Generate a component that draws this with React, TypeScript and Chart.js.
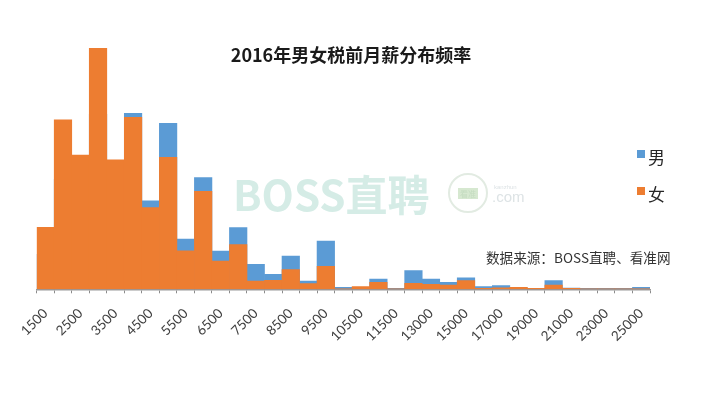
import { useEffect, useRef } from 'react';
import { Chart, registerables } from 'chart.js';

Chart.register(...registerables);

// Salary categories (monthly pre-tax salary, CNY)
const categories = [
  '1500', '2000', '2500', '3000', '3500', '4000', '4500', '5000', '5500', '6000',
  '6500', '7000', '7500', '8000', '8500', '9000', '9500', '10000', '10500', '11000',
  '11500', '12000', '13000', '14000', '15000', '16000', '17000', '18000', '19000', '20000',
  '21000', '22000', '23000', '24000', '25000',
];

// Tick labels that are shown on the axis
const tickLabels = [
  '1500', '2500', '3500', '4500', '5500', '6500', '7500', '8500', '9500',
  '10500', '11500', '13000', '15000', '17000', '19000', '21000', '23000', '25000',
];

// Frequency (%) per category
const maleValues = [
  2.42, 7.61, 7.61, 12.11, 7.75, 12.18, 6.13, 11.49, 3.48, 7.73,
  2.65, 4.27, 1.73, 1.04, 2.3, 0.57, 3.34, 0.14, 0.1, 0.71,
  0.06, 1.29, 0.71, 0.48, 0.8, 0.18, 0.25, 0.1, 0.07, 0.6,
  0.08, 0.07, 0.07, 0.07, 0.14,
];
const femaleValues = [
  4.29, 11.72, 9.29, 16.68, 8.95, 11.9, 5.65, 9.13, 2.67, 6.78,
  1.96, 3.09, 0.57, 0.62, 1.36, 0.39, 1.59, 0.03, 0.19, 0.48,
  0.03, 0.42, 0.35, 0.3, 0.6, 0.07, 0.1, 0.14, 0.06, 0.3,
  0.06, 0.03, 0.03, 0.03, 0.03,
];

const seriesNames = ['男', '女'];
const seriesColors = ['#5B9BD5', '#ED7D31'];
const titleText = '2016年男女税前月薪分布频率';
const sourceText = '数据来源：BOSS直聘、看准网';
const watermarkText = 'BOSS直聘';

const CJK = '"Noto Sans CJK SC", "Noto Sans", sans-serif';

const overlayPlugin = {
  id: 'overlayPlugin',
  beforeDatasetsDraw(chart: any) {
    const ctx = chart.ctx;
    ctx.save();
    // watermark
    ctx.font = `bold 42px ${CJK}`;
    ctx.fillStyle = '#d5ece6';
    ctx.textBaseline = 'middle';
    ctx.textAlign = 'left';
    ctx.fillText(watermarkText, 233, 195);
    // kanzhun logo
    ctx.strokeStyle = '#e2ebe2';
    ctx.lineWidth = 2;
    ctx.beginPath();
    ctx.arc(468, 193, 19, 0, Math.PI * 2);
    ctx.stroke();
    ctx.fillStyle = '#d6e8d0';
    ctx.fillRect(458, 188, 20, 11);
    ctx.fillStyle = '#c4dcc0';
    ctx.font = `8px ${CJK}`;
    ctx.textAlign = 'center';
    ctx.fillText('看准', 468, 194);
    ctx.fillStyle = '#dde3e5';
    ctx.textAlign = 'left';
    ctx.font = '15px "Liberation Sans", sans-serif';
    ctx.fillText('.com', 492, 198);
    ctx.font = '6px "Liberation Sans", sans-serif';
    ctx.fillText('kanzhun', 494, 187);
    ctx.restore();
  },
  afterDraw(chart: any) {
    const ctx = chart.ctx;
    ctx.save();
    // title
    ctx.font = `bold 18px ${CJK}`;
    ctx.fillStyle = '#1a1a1a';
    ctx.textAlign = 'center';
    ctx.textBaseline = 'middle';
    ctx.fillText(titleText, 351, 55);
    // legend
    const legendY = [154, 191];
    chart.data.datasets.forEach((ds: any, i: number) => {
      ctx.fillStyle = ds.backgroundColor;
      ctx.fillRect(637, legendY[i] - 4, 8, 8);
      ctx.fillStyle = '#262626';
      ctx.font = `17px ${CJK}`;
      ctx.textAlign = 'left';
      ctx.textBaseline = 'middle';
      ctx.fillText(ds.label, 648, legendY[i] + 4);
    });
    // source note
    ctx.font = `13.6px ${CJK}`;
    ctx.fillStyle = '#333333';
    ctx.textAlign = 'left';
    ctx.textBaseline = 'middle';
    ctx.fillText(sourceText, 486, 258);
    ctx.restore();
  },
};

export default function App() {
  const canvasRef = useRef<HTMLCanvasElement | null>(null);

  useEffect(() => {
    if (!canvasRef.current) return;
    const chart = new Chart(canvasRef.current, {
      type: 'bar',
      data: {
        labels: categories,
        datasets: [
          {
            label: seriesNames[0],
            data: maleValues,
            backgroundColor: seriesColors[0],
            borderWidth: 0,
            barPercentage: 1,
            categoryPercentage: 1,
            grouped: false,
            order: 1,
          },
          {
            label: seriesNames[1],
            data: femaleValues,
            backgroundColor: seriesColors[1],
            borderWidth: 0,
            barPercentage: 1,
            categoryPercentage: 1,
            grouped: false,
            order: 0,
          },
        ],
      },
      options: {
        responsive: true,
        maintainAspectRatio: false,
        animation: false,
        layout: { padding: { left: 36.7, right: 69, top: 40, bottom: 0 } },
        plugins: {
          legend: { display: false },
          title: { display: false },
          tooltip: { enabled: false },
        },
        scales: {
          x: {
            offset: true,
            grid: {
              display: true,
              offset: true,
              drawOnChartArea: false,
              drawTicks: true,
              tickLength: 4,
              color: '#8c8c8c',
            },
            border: { display: true, color: '#9a9a9a', width: 1.5 },
            ticks: {
              autoSkip: false,
              maxRotation: 45,
              minRotation: 45,
              padding: 12,
              color: '#404040',
              font: { family: 'Lato, "Open Sans", sans-serif', size: 13.5 },
              callback: (_v: any, index: number) =>
                tickLabels.includes(categories[index]) ? categories[index] : '',
            },
            afterFit: (axis: any) => {
              axis.height = 110.7;
            },
          },
          y: {
            display: false,
            min: 0,
            max: 17.25,
          },
        },
      },
      plugins: [overlayPlugin],
    });
    return () => chart.destroy();
  }, []);

  return (
    <div style={{ position: 'fixed', left: 0, top: 0, width: 719, height: 400, background: '#ffffff' }}>
      <canvas ref={canvasRef} />
    </div>
  );
}
